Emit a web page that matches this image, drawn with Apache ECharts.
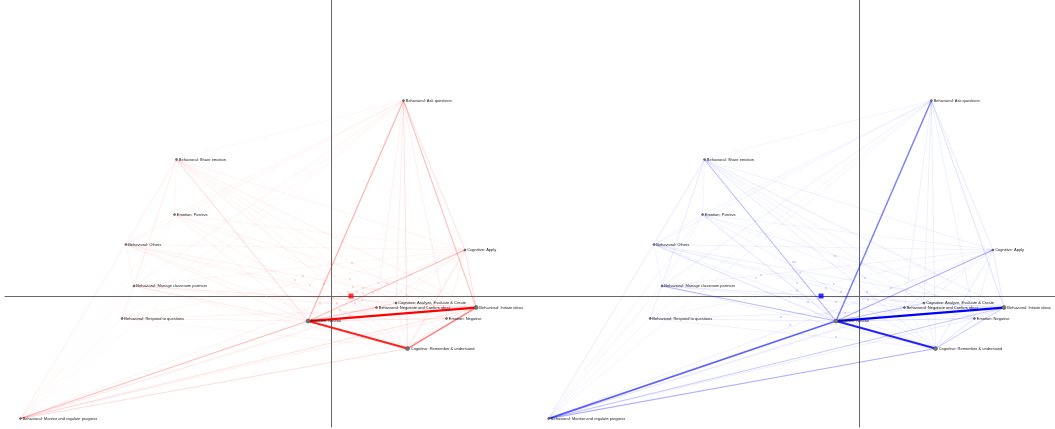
<!DOCTYPE html>
<html>
<head>
<meta charset="utf-8">
<script src="https://cdn.jsdelivr.net/npm/echarts@6/dist/echarts.min.js"></script>
<style>
html,body{margin:0;padding:0;background:#fff;}
#chart{width:1055px;height:429px;}
</style>
</head>
<body>
<div id="chart"></div>
<script>
// node positions (same for both networks)
const nodeNames = [
    'Behavioral: Ask questions',
    'Behavioral: Share emotion',
    'Emotion: Positive',
    'Behavioral: Others',
    'Cognitive: Apply',
    'Behavioral: Manage classroom partners',
    'Behavioral: Respond to questions',
    'Emotion: Neutral',
    'Cognitive: Analyze, Evaluate & Create',
    'Behavioral: Negotiate and Confirm ideas',
    'Behavioral: Initiate ideas',
    'Emotion: Negative',
    'Cognitive: Remember & understand',
    'Behavioral: Monitor and regulate progress'
];
const nodeX = [0.483, -1.030, -1.043, -1.367, 0.893, -1.313, -1.393, -0.153, 0.433, 0.303, 0.967, 0.770, 0.510, -2.070];
const nodeY = [1.303, 0.910, 0.543, 0.343, 0.307, 0.067, -0.150, -0.167, -0.047, -0.077, -0.077, -0.150, -0.350, -0.817];
const nodeSize = [2, 2, 2, 2, 2, 2, 2, 4, 2, 2, 4, 2, 4, 2];

// [source, target, weight]
const redEdges = [
    [7, 10, 1.0], [7, 12, 0.9], [12, 10, 0.6], [0, 7, 0.4], [0, 10, 0.35], [4, 7, 0.35], [13, 7, 0.35],
    [0, 12, 0.2], [0, 8, 0.12], [0, 9, 0.1], [0, 4, 0.2], [0, 11, 0.12],
    [0, 1, 0.05], [0, 2, 0.06], [0, 3, 0.06], [0, 5, 0.08], [0, 13, 0.05], [0, 6, 0.04],
    [4, 12, 0.2], [4, 10, 0.2], [4, 9, 0.1], [4, 8, 0.1], [4, 11, 0.1],
    [13, 10, 0.2], [13, 12, 0.22], [13, 11, 0.1], [13, 9, 0.1], [13, 8, 0.08], [13, 4, 0.08],
    [13, 3, 0.04], [13, 5, 0.05], [13, 2, 0.04], [13, 1, 0.04], [13, 6, 0.04],
    [1, 7, 0.25], [1, 12, 0.12], [1, 10, 0.12], [1, 4, 0.08], [1, 11, 0.08], [1, 8, 0.06], [1, 9, 0.06],
    [1, 3, 0.05], [1, 5, 0.05], [1, 6, 0.04], [1, 2, 0.04],
    [2, 7, 0.1], [2, 10, 0.08], [2, 12, 0.08], [2, 4, 0.06], [2, 3, 0.05], [2, 5, 0.04], [2, 11, 0.05],
    [3, 7, 0.1], [3, 10, 0.1], [3, 12, 0.08], [3, 4, 0.06], [3, 11, 0.06], [3, 9, 0.06], [3, 5, 0.05],
    [5, 7, 0.15], [5, 10, 0.15], [5, 12, 0.08], [5, 9, 0.08], [5, 4, 0.06], [5, 6, 0.04],
    [6, 7, 0.08], [6, 10, 0.08], [6, 12, 0.06], [6, 4, 0.04],
    [7, 9, 0.25], [7, 8, 0.2], [7, 11, 0.2],
    [10, 9, 0.15], [10, 8, 0.12], [10, 11, 0.15],
    [12, 9, 0.1], [12, 8, 0.1], [12, 11, 0.15]
];
const blueEdges = [
    [7, 10, 1.0], [7, 12, 0.9], [12, 10, 0.3], [0, 7, 0.6], [0, 10, 0.2], [4, 7, 0.4], [13, 7, 0.7],
    [0, 12, 0.12], [0, 8, 0.1], [0, 9, 0.1], [0, 4, 0.15], [0, 11, 0.1],
    [0, 1, 0.06], [0, 2, 0.08], [0, 3, 0.08], [0, 5, 0.1], [0, 13, 0.06], [0, 6, 0.05],
    [4, 12, 0.15], [4, 10, 0.15], [4, 9, 0.1], [4, 8, 0.1], [4, 11, 0.1],
    [13, 10, 0.3], [13, 12, 0.4], [13, 11, 0.12], [13, 9, 0.12], [13, 8, 0.1], [13, 4, 0.1],
    [13, 3, 0.06], [13, 5, 0.08], [13, 2, 0.06], [13, 1, 0.06], [13, 6, 0.05],
    [1, 7, 0.35], [1, 12, 0.15], [1, 10, 0.15], [1, 4, 0.1], [1, 11, 0.1], [1, 8, 0.08], [1, 9, 0.08],
    [1, 3, 0.08], [1, 5, 0.06], [1, 6, 0.05], [1, 2, 0.05],
    [2, 7, 0.2], [2, 10, 0.1], [2, 12, 0.1], [2, 4, 0.08], [2, 3, 0.06], [2, 5, 0.05], [2, 11, 0.06],
    [3, 7, 0.2], [3, 10, 0.12], [3, 12, 0.1], [3, 4, 0.08], [3, 11, 0.08], [3, 9, 0.08], [3, 5, 0.06],
    [5, 7, 0.35], [5, 10, 0.15], [5, 12, 0.1], [5, 9, 0.1], [5, 4, 0.08], [5, 6, 0.05],
    [6, 7, 0.12], [6, 10, 0.1], [6, 12, 0.08], [6, 4, 0.05],
    [7, 9, 0.25], [7, 8, 0.2], [7, 11, 0.2],
    [10, 9, 0.12], [10, 8, 0.1], [10, 11, 0.12],
    [12, 9, 0.1], [12, 8, 0.1], [12, 11, 0.2]
];

// unit points and group means
const redPoints = [
    [-0.24, 0.107], [-0.187, 0.133], [-0.14, 0.073], [-0.047, 0.08], [0.127, 0.113], [0.147, 0.06],
    [0.113, 0.027], [0.173, 0.027], [0.213, 0.053], [0.213, 0.02], [0.28, 0.02], [0.207, -0.027],
    [0.16, -0.047], [0.04, -0.047], [0.013, -0.013], [-0.073, -0.047], [0.127, -0.127], [0.06, -0.093],
    [0.14, 0.22], [0.313, 0.087], [0.373, 0.087], [0, -0.113]
];
const bluePoints = [
    [-0.687, 0.12], [-0.653, 0.14], [-0.44, 0.227], [-0.413, 0.087], [-0.413, 0.033], [-0.22, 0.053],
    [-0.167, 0.08], [-0.12, 0.027], [0.04, 0.12], [0.053, 0.027], [0.213, 0.053], [0.06, -0.027],
    [-0.153, -0.04], [-0.34, -0.04], [-0.52, -0.14], [-0.46, -0.193], [-0.153, -0.273], [-0.393, 0.153],
    [-0.093, -0.113], [-0.16, 0.267], [-0.427, 0.227]
];
const redMean = [0.133, 0];
const blueMean = [-0.253, 0];

function buildNodes() {
    return nodeNames.map((name, i) => ({
        name: name,
        value: [nodeX[i], nodeY[i]],
        symbolSize: nodeSize[i]
    }));
}

// heavier edges get wider and more opaque
function buildLinks(edges, rgb) {
    return edges.slice().sort((a, b) => a[2] - b[2]).map(e => ({
        source: nodeNames[e[0]],
        target: nodeNames[e[1]],
        lineStyle: {
            width: 0.4 + 1.8 * e[2],
            opacity: 1,
            color: `rgba(${rgb}, ${(0.08 + 0.92 * Math.pow(e[2], 1.5)).toFixed(3)})`
        }
    }));
}

function axisPair(gridIndex, xmin, xmax) {
    const common = {
        axisTick: { show: false },
        axisLabel: { show: false },
        splitLine: { show: false },
        axisLine: { onZero: true, lineStyle: { color: '#666', width: 1 } }
    };
    return {
        x: Object.assign({ type: 'value', gridIndex: gridIndex, min: xmin, max: xmax }, common),
        y: Object.assign({ type: 'value', gridIndex: gridIndex, min: -0.873, max: 1.973 }, common)
    };
}

const chart = echarts.init(document.getElementById('chart'));
const a0 = axisPair(0, -2.173, 1.313);
const a1 = axisPair(1, -2.207, 1.307);

function graphSeries(idx, edges, rgb) {
    return {
        type: 'graph',
        layout: 'none',
        coordinateSystem: 'cartesian2d',
        xAxisIndex: idx,
        yAxisIndex: idx,
        silent: true,
        z: 2,
        data: buildNodes(),
        links: buildLinks(edges, rgb),
        lineStyle: { opacity: 1 },
        itemStyle: { color: '#777', borderColor: '#444', borderWidth: 0.5 },
        label: {
            show: true,
            position: 'right',
            distance: 1,
            fontSize: 4,
            fontFamily: 'Liberation Sans',
            color: '#222'
        }
    };
}

chart.setOption({
    animation: false,
    grid: [
        { left: 5, top: 0, width: 523, height: 427 },
        { left: 528, top: 0, width: 527, height: 427 }
    ],
    xAxis: [a0.x, a1.x],
    yAxis: [a0.y, a1.y],
    series: [
        graphSeries(0, redEdges, '255, 0, 0'),
        graphSeries(1, blueEdges, '0, 0, 255'),
        {
            type: 'scatter', xAxisIndex: 0, yAxisIndex: 0, z: 1,
            symbolSize: 2, data: redPoints,
            itemStyle: { color: 'rgba(255, 0, 0, 0.25)' }
        },
        {
            type: 'scatter', xAxisIndex: 1, yAxisIndex: 1, z: 1,
            symbolSize: 2, data: bluePoints,
            itemStyle: { color: 'rgba(0, 0, 255, 0.25)' }
        },
        {
            type: 'scatter', xAxisIndex: 0, yAxisIndex: 0, z: 3,
            symbol: 'rect', symbolSize: 5, data: [redMean],
            itemStyle: { color: '#ff0000' }
        },
        {
            type: 'scatter', xAxisIndex: 1, yAxisIndex: 1, z: 3,
            symbol: 'rect', symbolSize: 5, data: [blueMean],
            itemStyle: { color: '#0000ff' }
        }
    ]
});
</script>
</body>
</html>
